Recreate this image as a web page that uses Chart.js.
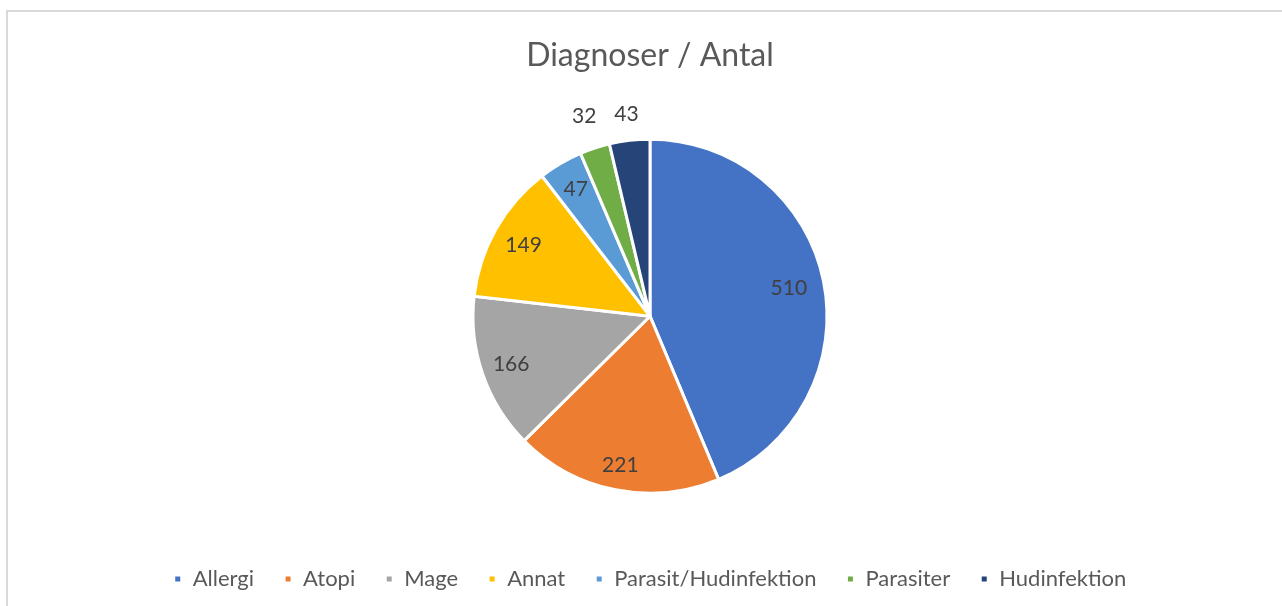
<!DOCTYPE html>
<html>
<head>
<meta charset="utf-8">
<script src="https://cdn.jsdelivr.net/npm/chart.js@4.4.1/dist/chart.umd.min.js"></script>
<style>
  html, body { margin:0; padding:0; background:#fff; overflow:hidden; }
  #frame { position:absolute; left:6px; top:10px; width:1290px; height:620px; border:2px solid #d9d9d9; box-sizing:border-box; }
  #wrap { position:absolute; left:0; top:0; width:1282px; height:606px; }
</style>
</head>
<body>
<div id="frame"></div>
<div id="wrap"><canvas id="pie"></canvas></div>
<script>
// diagnoser
const categories = ['Allergi','Atopi','Mage','Annat','Parasit/Hudinfektion','Parasiter','Hudinfektion'];
const antal = [510, 221, 166, 149, 47, 32, 43];
const colors = ['#4472C4','#ED7D31','#A5A5A5','#FFC000','#5B9BD5','#70AD47','#264478'];
// etikettens avstånd från mitten (andel av radien), små bitar får etikett utanför
const labelDist = [0.80, 0.86, 0.83, 0.82, 0.83, 1.19, 1.15];

const fontName = 'Lato, "Open Sans", sans-serif';

const valueLabels = {
  id: 'valueLabels',
  afterDatasetsDraw(chart) {
    const ctx = chart.ctx;
    const meta = chart.getDatasetMeta(0);
    ctx.save();
    ctx.font = '21px ' + fontName;
    ctx.fillStyle = '#404040';
    ctx.textAlign = 'center';
    ctx.textBaseline = 'middle';
    meta.data.forEach((arc, i) => {
      const p = arc.getProps(['x','y','startAngle','endAngle','outerRadius'], true);
      const mid = (p.startAngle + p.endAngle) / 2;
      const r = p.outerRadius * labelDist[i];
      ctx.fillText(String(antal[i]), p.x + Math.cos(mid) * r, p.y + Math.sin(mid) * r);
    });
    ctx.restore();
  }
};

new Chart(document.getElementById('pie'), {
  type: 'pie',
  data: {
    labels: categories,
    datasets: [{ data: antal, backgroundColor: colors, borderColor: '#fff', borderWidth: 3, radius: 177 }]
  },
  options: {
    responsive: true,
    maintainAspectRatio: false,
    animation: false,
    layout: { padding: { left: 18, bottom: 8 } },
    plugins: {
      title: { display: true, text: 'Diagnoser / Antal', color: '#595959',
               font: { family: fontName, size: 32, weight: 'normal' }, padding: { top: 36, bottom: 20 } },
      legend: { position: 'bottom', maxHeight: 60,
                labels: { color: '#595959', font: { family: fontName, size: 22 }, boxWidth: 8, boxHeight: 8, padding: 30 } },
      tooltip: { enabled: false }
    }
  },
  plugins: [valueLabels]
});
</script>
</body>
</html>
